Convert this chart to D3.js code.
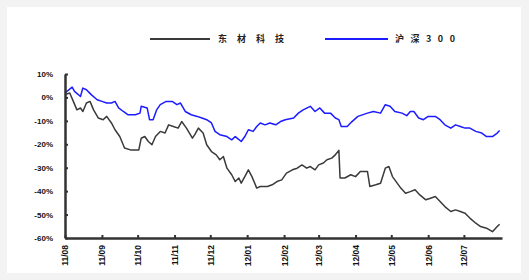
<!DOCTYPE html>
<meta charset="utf-8">
<style>
  body {
    margin: 0;
    background-color: #f3f3f3;
  }
  .axis text {
    font-family: "Liberation Sans", Arial, sans-serif;
    font-size: 8px;
    font-weight: bold;
    fill: #111;
  }
  .legend text {
    font-family: "Noto Sans CJK SC", sans-serif;
    font-size: 9px;
    font-weight: bold;
    fill: #222;
  }
</style>
<body>
<div id="chart"></div>
<script src="https://d3js.org/d3.v7.min.js"></script>
<script>
  // month ticks on the x axis
  const monthDates = ["2011-08-01","2011-09-01","2011-10-01","2011-11-01","2011-12-01","2012-01-01",
                      "2012-02-01","2012-03-01","2012-04-01","2012-05-01","2012-06-01","2012-07-01"];
  const monthLabels = ["11/08","11/09","11/10","11/11","11/12","12/01",
                       "12/02","12/03","12/04","12/05","12/06","12/07"];
  const yTicks = [10, 0, -10, -20, -30, -40, -50, -60];

  const seriesNames = ["东材科技", "沪深300"];

  // 东材科技, cumulative return in %
  const dongcaiDates = ["2011-08-01","2011-08-05","2011-08-08","2011-08-11","2011-08-14","2011-08-16","2011-08-19","2011-08-22","2011-08-25","2011-08-29",
    "2011-09-02","2011-09-05","2011-09-09","2011-09-12","2011-09-16","2011-09-20","2011-09-25","2011-10-02","2011-10-04","2011-10-07",
    "2011-10-10","2011-10-13","2011-10-16","2011-10-20","2011-10-24","2011-10-27","2011-10-31","2011-11-04","2011-11-07","2011-11-11",
    "2011-11-16","2011-11-18","2011-11-21","2011-11-25","2011-11-28","2011-12-02","2011-12-06","2011-12-09","2011-12-12","2011-12-15",
    "2011-12-19","2011-12-22","2011-12-25","2011-12-27","2011-12-30","2012-01-02","2012-01-05","2012-01-09","2012-01-12","2012-01-18",
    "2012-01-22","2012-01-26","2012-01-30","2012-02-03","2012-02-08","2012-02-12","2012-02-16","2012-02-20","2012-02-23","2012-02-27",
    "2012-03-01","2012-03-05","2012-03-08","2012-03-12","2012-03-15","2012-03-18","2012-03-19","2012-03-23","2012-03-28","2012-04-01",
    "2012-04-05","2012-04-11","2012-04-13","2012-04-18","2012-04-22","2012-04-26","2012-04-29","2012-05-02","2012-05-04","2012-05-09",
    "2012-05-13","2012-05-17","2012-05-21","2012-05-25","2012-05-30","2012-06-03","2012-06-07","2012-06-11","2012-06-15","2012-06-20",
    "2012-06-24","2012-06-28","2012-07-02","2012-07-06","2012-07-11","2012-07-15","2012-07-20","2012-07-25","2012-07-29","2012-07-31"];
  const dongcaiValues = [1.2, 1.9, -1.7, -5.3, -4.5, -6.0, -2.4, -1.7, -5.3, -8.8,
    -9.5, -8.1, -10.9, -13.8, -16.7, -21.6, -22.4, -22.4, -17.4, -16.7,
    -18.8, -20.2, -16.7, -14.5, -15.2, -11.7, -12.4, -13.1, -10.3, -13.1,
    -17.4, -15.9, -13.1, -15.2, -20.2, -23.1, -24.5, -26.6, -25.2, -30.2,
    -33.0, -35.9, -34.4, -36.6, -33.8, -30.9, -33.8, -38.7, -38.0, -38.0,
    -37.3, -35.9, -35.2, -32.3, -30.9, -30.2, -28.8, -30.2, -29.5, -30.9,
    -28.8, -28.0, -26.6, -25.9, -24.5, -22.6, -34.4, -34.4, -33.0, -33.8,
    -31.6, -31.6, -38.0, -37.3, -36.6, -30.2, -29.5, -33.8, -35.2, -38.7,
    -40.9, -40.2, -39.4, -41.6, -43.7, -43.0, -42.3, -44.4, -46.6, -48.7,
    -48.0, -48.7, -49.4, -51.5, -53.7, -55.1, -55.8, -57.3, -55.1, -54.1];

  // 沪深300, cumulative return in %
  const hs300Dates = ["2011-08-01","2011-08-07","2011-08-09","2011-08-14","2011-08-16","2011-08-19","2011-08-23","2011-08-28","2011-09-01","2011-09-05",
    "2011-09-09","2011-09-12","2011-09-15","2011-09-19","2011-09-23","2011-09-29","2011-10-03","2011-10-04","2011-10-09","2011-10-11",
    "2011-10-14","2011-10-17","2011-10-20","2011-10-25","2011-10-30","2011-11-03","2011-11-06","2011-11-10","2011-11-15","2011-11-20",
    "2011-11-24","2011-11-28","2011-12-02","2011-12-05","2011-12-09","2011-12-15","2011-12-19","2011-12-22","2011-12-27","2011-12-30",
    "2012-01-02","2012-01-06","2012-01-09","2012-01-12","2012-01-16","2012-01-20","2012-01-25","2012-01-29","2012-02-02","2012-02-09",
    "2012-02-13","2012-02-17","2012-02-23","2012-02-27","2012-03-02","2012-03-06","2012-03-11","2012-03-15","2012-03-18","2012-03-20",
    "2012-03-25","2012-03-29","2012-04-03","2012-04-11","2012-04-16","2012-04-22","2012-04-26","2012-04-30","2012-05-04","2012-05-10",
    "2012-05-14","2012-05-17","2012-05-20","2012-05-24","2012-05-28","2012-06-01","2012-06-07","2012-06-11","2012-06-15","2012-06-20",
    "2012-06-24","2012-06-28","2012-07-02","2012-07-06","2012-07-11","2012-07-16","2012-07-20","2012-07-25","2012-07-29","2012-07-31"];
  const hs300Values = [1.9, 4.4, 2.6, 0.4, 4.0, 3.3, 1.2, -1.0, -1.7, -2.4,
    -2.4, -1.7, -4.5, -6.0, -7.4, -7.4, -6.7, -3.8, -4.5, -9.5,
    -9.5, -5.3, -3.1, -1.7, -1.7, -3.1, -2.4, -6.0, -7.4, -8.1,
    -8.8, -9.5, -10.9, -14.5, -15.9, -16.7, -18.1, -16.7, -18.8, -16.7,
    -13.8, -14.5, -12.4, -10.9, -11.7, -10.9, -11.7, -10.3, -9.5, -8.8,
    -6.7, -5.3, -3.8, -6.0, -4.5, -6.7, -6.7, -8.8, -9.5, -12.4,
    -12.4, -10.3, -8.1, -6.7, -6.0, -6.7, -3.1, -3.8, -6.0, -6.7,
    -7.8, -6.0, -6.0, -8.8, -9.5, -8.1, -8.1, -9.5, -11.7, -13.1,
    -11.7, -12.4, -13.1, -13.1, -14.5, -15.2, -16.7, -16.7, -15.2, -14.1];

  const parseDate = d3.timeParse("%Y-%m-%d");
  const width = 529, height = 280;

  const svg = d3.select("#chart")
    .append("svg")
    .attr("width", width)
    .attr("height", height);

  // white panel
  svg.append("rect")
    .attr("x", 7).attr("y", 7)
    .attr("width", 514).attr("height", 266)
    .attr("fill", "white");

  const x = d3.scaleTime()
    .domain([parseDate("2011-08-01"), parseDate("2012-08-02")])
    .range([65, 502]);

  const y = d3.scaleLinear()
    .domain([-60, 10])
    .range([238, 74]);

  const colors = ["#3a3a3a", "#1c1cff"];

  const line = d3.line()
    .x(d => x(d.date))
    .y(d => y(d.value));

  const series = [
    dongcaiDates.map((d, i) => ({date: parseDate(d), value: dongcaiValues[i]})),
    hs300Dates.map((d, i) => ({date: parseDate(d), value: hs300Values[i]}))
  ];

  series.forEach((s, i) => {
    svg.append("path")
      .datum(s)
      .attr("fill", "none")
      .attr("stroke", colors[i])
      .attr("stroke-width", 1.5)
      .attr("stroke-linejoin", "round")
      .attr("d", line);
  });

  // y axis
  svg.append("g")
    .attr("class", "axis")
    .attr("transform", "translate(65,0)")
    .call(d3.axisLeft(y)
      .tickValues(yTicks)
      .tickSizeInner(-3)
      .tickSizeOuter(0)
      .tickPadding(12)
      .tickFormat(d => d + "%"))
    .call(g => g.select(".domain").attr("stroke", "#333").attr("stroke-width", 2.5))
    .call(g => g.selectAll(".tick line").attr("stroke", "#333").attr("stroke-width", 2));

  // x axis
  const monthTicks = monthDates.map(parseDate);
  svg.append("g")
    .attr("class", "axis")
    .attr("transform", "translate(0,238)")
    .call(d3.axisBottom(x)
      .tickValues(monthTicks)
      .tickSizeInner(-3)
      .tickSizeOuter(0)
      .tickFormat((d, i) => monthLabels[i]))
    .call(g => g.select(".domain").attr("stroke", "#333").attr("stroke-width", 2.5))
    .call(g => g.selectAll(".tick line").attr("stroke", "#333").attr("stroke-width", 2))
    .call(g => g.selectAll(".tick text")
      .style("font-size", "8.5px")
      .attr("transform", "rotate(-90)")
      .attr("text-anchor", "end")
      .attr("x", -7)
      .attr("y", 0)
      .attr("dy", "0.35em"));

  // legend
  const legend = svg.append("g").attr("class", "legend");
  const legendItems = [
    {x1: 150, x2: 210, tx: 218, len: 66},
    {x1: 325, x2: 388, tx: 395, len: 60}
  ];
  legendItems.forEach((it, i) => {
    legend.append("line")
      .attr("x1", it.x1).attr("x2", it.x2)
      .attr("y1", 39).attr("y2", 39)
      .attr("stroke", colors[i])
      .attr("stroke-width", 2);
    legend.append("text")
      .attr("x", it.tx)
      .attr("y", 42)
      .attr("textLength", it.len)
      .attr("lengthAdjust", "spacing")
      .text(seriesNames[i]);
  });
</script>
</body>
</html>
